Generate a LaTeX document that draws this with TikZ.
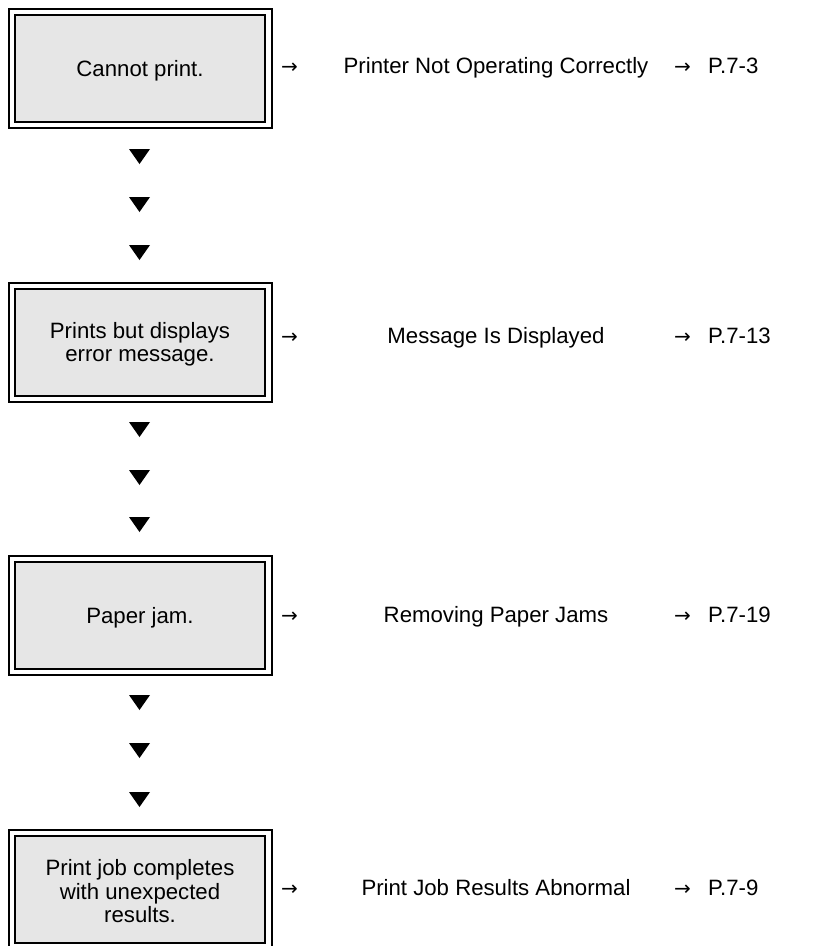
\documentclass[tikz,border=0pt]{standalone}
\usepackage{fontspec}
\setmainfont{Liberation Sans}
\newfontfamily\arrowfont{DejaVu Sans}
\definecolor{boxgray}{RGB}{230,230,230}
\newcommand{\rarr}{{\arrowfont\fontsize{20}{20}\selectfont →}}
\begin{document}
\begin{tikzpicture}[x=1pt,y=-1pt,
  txt/.style={font=\fontsize{22.2}{23.5}\selectfont, inner sep=0pt},
  outerbox/.style={draw, line width=2pt, minimum width=263pt, minimum height=119pt, inner sep=0pt},
  innerbox/.style={draw, line width=2pt, fill=boxgray, minimum width=250pt, minimum height=107pt, inner sep=0pt},
  boxtext/.style={txt, align=center},
  tri/.style={fill=black}
]
\useasboundingbox (0,0) rectangle (820,946);
% boxes
\foreach \n/\cy/\t in {1/68.5/{Cannot print.},2/342.5/{Prints but displays\\error message.},3/615.5/{Paper jam.},4/889.5/{Print job completes\\with unexpected\\results.}}{
  \node[outerbox] (o\n) at (140.5,\cy) {};
  \node[innerbox] (b\n) at (140,\cy) {};
  \node[boxtext] (t\n) at (140,\cy+2) {\t};
}
% triangles
\foreach \y in {149,197,245,422,470,517,695,743,792}{
  \fill[tri] (129,\y) -- (150,\y) -- (139.5,\y+15) -- cycle;
}
% right column
\foreach \n/\by/\t/\p in {1/73/{Printer Not Operating Correctly}/{P.7-3},2/343/{Message Is Displayed}/{P.7-13},3/622/{Removing Paper Jams}/{P.7-19},4/895/{Print Job Results Abnormal}/{P.7-9}}{
  \node[txt, anchor=base west] (a\n) at (281,\by) {\rarr};
  \node[txt, anchor=base] (m\n) at (496,\by) {\t};
  \node[txt, anchor=base west] (r\n) at (674,\by) {\rarr};
  \node[txt, anchor=base west] (p\n) at (708,\by) {\p};
}
\end{tikzpicture}
\end{document}
